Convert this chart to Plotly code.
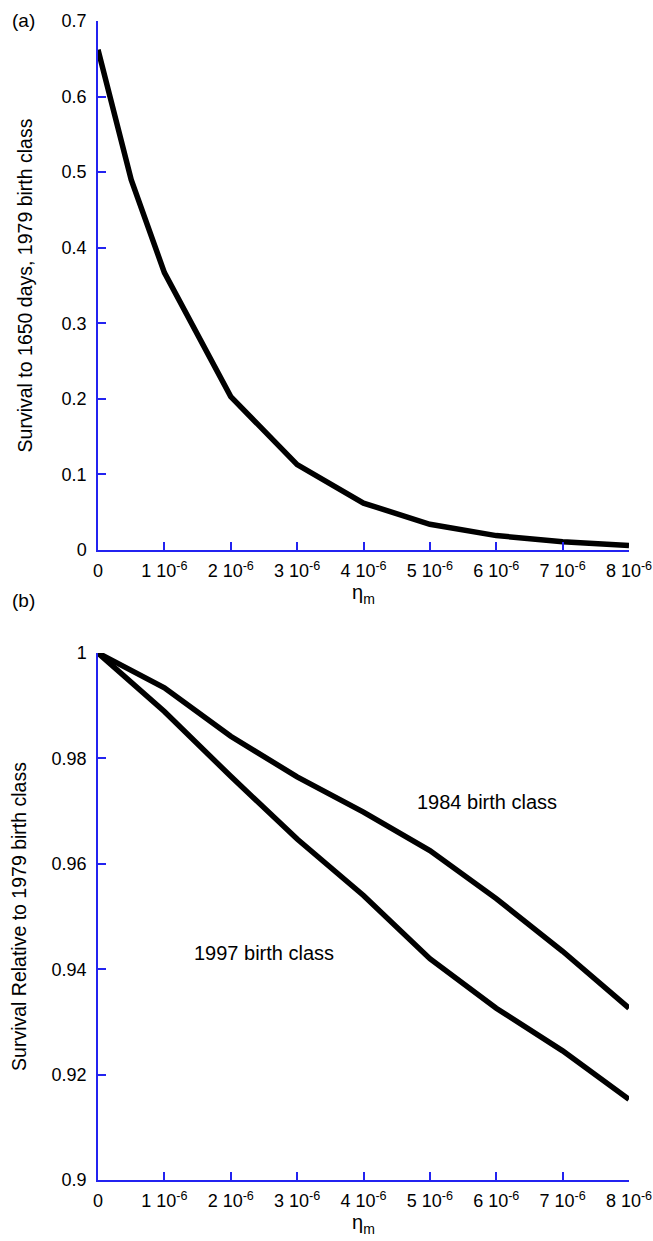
import plotly.graph_objects as go
from plotly.subplots import make_subplots

# ---- data ----
eta_a = [0, 0.5e-6, 1e-6, 2e-6, 3e-6, 4e-6, 5e-6, 6e-6, 7e-6, 8e-6]
surv_1979 = [0.662, 0.49, 0.367, 0.203, 0.113, 0.062, 0.034, 0.019, 0.011, 0.006]

eta_b = [0, 1e-6, 2e-6, 3e-6, 4e-6, 5e-6, 6e-6, 7e-6, 8e-6]
rel_1984 = [1.0, 0.9934, 0.9842, 0.9765, 0.9698, 0.9625, 0.9534, 0.9434, 0.9326]
rel_1997 = [1.0, 0.9889, 0.9766, 0.9647, 0.9540, 0.9420, 0.9326, 0.9245, 0.9153]

x_tickvals = [0, 1e-6, 2e-6, 3e-6, 4e-6, 5e-6, 6e-6, 7e-6, 8e-6]
x_ticktext = ["0"] + [f"{i} 10<sup>-6</sup>" for i in range(1, 9)]
ya_tickvals = [0, 0.1, 0.2, 0.3, 0.4, 0.5, 0.6, 0.7]
ya_ticktext = ["0", "0.1", "0.2", "0.3", "0.4", "0.5", "0.6", "0.7"]
yb_tickvals = [0.9, 0.92, 0.94, 0.96, 0.98, 1.0]
yb_ticktext = ["0.9", "0.92", "0.94", "0.96", "0.98", "1"]

FONT = "Liberation Sans, Arial, sans-serif"
BLUE = "#2323f0"
FS = 18
TS = 19.5

fig = make_subplots(rows=2, cols=1)

fig.add_trace(go.Scatter(x=eta_a, y=surv_1979, mode="lines",
                         line=dict(color="black", width=5.5), showlegend=False),
              row=1, col=1)
fig.add_trace(go.Scatter(x=eta_b, y=rel_1984, mode="lines",
                         line=dict(color="black", width=5.5), showlegend=False),
              row=2, col=1)
fig.add_trace(go.Scatter(x=eta_b, y=rel_1997, mode="lines",
                         line=dict(color="black", width=5.5), showlegend=False),
              row=2, col=1)

axis_common = dict(showline=True, linecolor=BLUE, linewidth=1.5, ticks="inside",
                   tickcolor=BLUE, ticklen=8, tickwidth=1.5, showgrid=False,
                   zeroline=False, mirror=False,
                   tickfont=dict(family=FONT, size=FS, color="black"))

fig.update_xaxes(**axis_common, range=[0, 8e-6], tickvals=x_tickvals,
                 ticktext=x_ticktext, automargin=False, ticklabelstandoff=4,
                 title=dict(text="η<sub>m</sub>", font=dict(family=FONT, size=20, color="black"),
                            standoff=2))
fig.update_yaxes(**axis_common, automargin=False, ticklabelstandoff=6)

fig.update_layout(
    xaxis=dict(domain=[0, 1]),
    yaxis=dict(domain=[0.5436, 1.0], range=[0, 0.7], tickvals=ya_tickvals,
               ticktext=ya_ticktext,
               title=dict(text="Survival to 1650 days, 1979 birth class",
                          font=dict(family=FONT, size=TS, color="black"), standoff=24)),
    xaxis2=dict(domain=[0, 1]),
    yaxis2=dict(domain=[0.0, 0.4547], range=[0.9, 1.0], tickvals=yb_tickvals,
                ticktext=yb_ticktext,
                title=dict(text="Survival Relative to 1979 birth class",
                           font=dict(family=FONT, size=TS, color="black"), standoff=20)),
    width=653, height=1241,
    margin=dict(l=98, r=24, t=21, b=61),
    paper_bgcolor="white", plot_bgcolor="white",
    font=dict(family=FONT, size=FS, color="black"),
    annotations=[
        dict(text="(a)", xref="paper", yref="paper", x=-98/531, y=1.0, xanchor="left",
             yanchor="middle", xshift=10, yshift=1, showarrow=False,
             font=dict(family=FONT, size=19, color="black")),
        dict(text="(b)", xref="paper", yref="paper", x=-98/531, y=0.4547, xanchor="left",
             yanchor="middle", xshift=10, yshift=53, showarrow=False,
             font=dict(family=FONT, size=19, color="black")),
        dict(text="1984 birth class", xref="x2", yref="y2", x=5.86e-6, y=0.9717,
             showarrow=False, font=dict(family=FONT, size=20, color="black")),
        dict(text="1997 birth class", xref="x2", yref="y2", x=2.5e-6, y=0.943,
             showarrow=False, font=dict(family=FONT, size=20, color="black")),
    ],
)

fig.write_html("out.html")
